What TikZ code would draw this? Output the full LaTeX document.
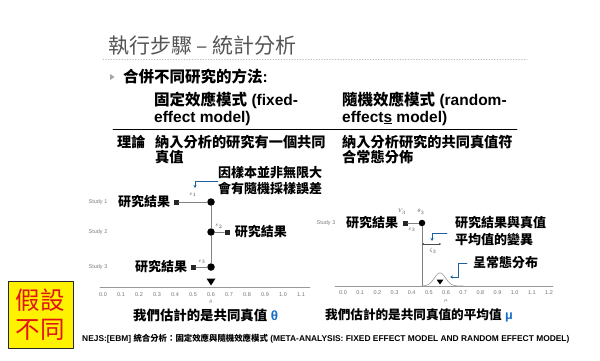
\documentclass[tikz,border=0pt]{standalone}
\usepackage{fontspec}
\setmainfont{Liberation Sans}
\newfontfamily\cjk{Noto Sans CJK TC}
\usetikzlibrary{arrows.meta,positioning}
\definecolor{noteblue}{RGB}{31,95,160}
\definecolor{greekblue}{RGB}{20,110,200}
\definecolor{titlegray}{RGB}{85,85,85}
\definecolor{hypred}{RGB}{225,20,20}
\newcommand{\zh}[1]{{\cjk #1}}
\tikzset{
  every picture/.append style={line cap=round,line join=round},
  ma title/.style={anchor=west,inner sep=0pt,text=titlegray,font=\fontsize{21}{24}\selectfont\cjk},
  ma head/.style={anchor=west,inner sep=0pt,align=left,font=\bfseries\fontsize{15.5}{17}\selectfont},
  ma text/.style={anchor=west,inner sep=0pt,align=left,font=\bfseries\fontsize{14.2}{15.5}\selectfont\cjk},
  ma result/.style={inner sep=0pt,font=\bfseries\fontsize{13}{16.5}\selectfont\cjk},
  ma study/.style={inner sep=0pt,text=gray,font=\fontsize{5.5}{6}\selectfont},
  ma tick/.style={inner sep=0pt,text=gray!90!black,font=\fontsize{5.5}{6}\selectfont},
  ma err/.style={inner sep=0pt,text=black!70,font=\fontsize{4.5}{5}\selectfont},
  ma dot/.style={circle,fill=black,inner sep=0pt,minimum size=7.5pt},
  ma box/.style={rectangle,fill=black!85,inner sep=0pt,minimum size=5pt},
  ma link/.style={gray,line width=0.8pt},
  ma axis/.style={gray!80,line width=0.6pt},
  ma note/.style={noteblue,line width=0.8pt,-{Stealth[length=3pt,width=3pt]}},
  ma caption/.style={anchor=west,inner sep=0pt,font=\bfseries\fontsize{13.4}{15}\selectfont},
  hyp box/.style={draw=black!85,fill=yellow,line width=0.8pt,minimum width=65pt,minimum height=67pt,
    inner sep=0pt,align=center,text=hypred,font=\fontsize{24.5}{29}\selectfont\cjk}
}
\pgfkeys{/pgf/number format/.cd,fixed,fixed zerofill,precision=1,assume math mode=true}

\begin{document}
\begin{tikzpicture}[x=1pt,y=-1pt]
  \useasboundingbox[fill=white] (0,0) rectangle (600,361);
  % title and header
  \node[ma title] (title) at (108,46) {執行步驟 – 統計分析};
  \coordinate (rule l) at (103,59);
  \coordinate (rule r) at (527,59);
  \draw[gray!55,dotted,line width=0.7pt] (rule l) -- (rule r);
  \fill[gray!70] (110,74) -- (114.5,77) -- (110,80) -- cycle;
  \node[ma head] (method) at (123,77) {\zh{合併不同研究的方法}:};
  \node[ma head] (fixed) at (154,108.5) {\zh{固定效應模式} (fixed-\\effect model)};
  \node[ma head] (random) at (342,108.5) {\zh{隨機效應模式} (random-\\effect\underline{s} model)};
  \coordinate (hline l) at (113,129.5);
  \coordinate (hline r) at (517,129.5);
  \draw[line width=0.8pt] (hline l) -- (hline r);
  \node[ma text] (theory) at (117,142) {理論};
  \node[ma text] (fixed def) at (155,149.5) {納入分析的研究有一個共同\\真值};
  \node[ma text] (random def) at (342,149.5) {納入分析研究的共同真值符\\合常態分佈};

  % fixed-effect panel
  \foreach \n/\y in {1/202,2/232,3/267}
    \node[ma study] (study\n) at (98,\y) {Study \n};
  \node[ma dot] (theta1) at (211,202) {};
  \node[ma dot] (theta2) at (211,232) {};
  \node[ma dot] (theta3) at (211,267) {};
  \node[ma box] (obs1) at (176,202) {};
  \node[ma box] (obs2) at (227,232) {};
  \node[ma box] (obs3) at (193,267) {};
  \draw[ma link] (theta1) -- (theta2) -- (theta3);
  \draw[ma link] (obs1) -- (theta1);
  \draw[ma link] (theta2) -- (obs2);
  \draw[ma link] (obs3) -- (theta3);
  \node[ma err] (eps1) at (193,195) {$\varepsilon_1$};
  \node[ma err] (eps2) at (219,226.5) {$\varepsilon_2$};
  \node[ma err] (eps3) at (202,262) {$\varepsilon_3$};
  \node[ma result,left=3pt of obs1] (res1) {研究結果};
  \node[ma result,right=5pt of obs2] (res2) {研究結果};
  \node[ma result,left=3pt of obs3] (res3) {研究結果};
  \node[ma text,font=\bfseries\fontsize{13}{16}\selectfont\cjk] (sampling) at (218,181)
    {因樣本並非無限大\\會有隨機採樣誤差};
  \coordinate (sampling tip) at (195,188);
  \draw[ma note] (sampling.west) -| (sampling tip);
  \coordinate (faxis l) at (100,287);
  \coordinate (faxis r) at (310,287);
  \draw[ma axis] (faxis l) -- (faxis r);
  \foreach \i in {0,...,11}
    \node[ma tick] (ftick\i) at ({103+18*\i},295)
      {\pgfmathparse{\i/10}\pgfmathprintnumber{\pgfmathresult}};
  \fill[black] (206.5,278.5) -- (215.5,278.5) -- (211,285.5) -- cycle;
  \node[ma tick] (flabel) at (211,302) {$\theta$};
  \node[ma caption] (fcap) at (133,315) {\zh{我們估計的是共同真值} \textcolor{greekblue}{θ}};

  % random-effects panel
  \node[ma study] (rstudy3) at (326,223) {Study 3};
  \node[ma dot,minimum size=6.5pt] (rtheta3) at (422,223) {};
  \node[ma box] (robs3) at (405,223) {};
  \draw[ma link] (robs3) -- (rtheta3);
  \node[ma err] (ry3) at (402,212) {$Y_3$};
  \node[ma err] (rth3) at (421,212) {$\theta_3$};
  \node[ma err] (reps3) at (412,230) {$\varepsilon_3$};
  \node[ma result,left=4pt of robs3] (rres3) {研究結果};
  \coordinate (raxis l) at (335,286);
  \coordinate (raxis r) at (553,286);
  \coordinate (rbase) at (422,286);
  \draw[ma link] (rtheta3) -- (rbase);
  \coordinate (zeta l) at (422,244);
  \coordinate (zeta r) at (441,244);
  \draw[black!70,line width=0.5pt,{Stealth[length=2pt,width=2pt]}-{Stealth[length=2pt,width=2pt]}] (zeta l) -- (zeta r);
  \node[ma err] (rzeta3) at (433,251) {$\zeta_3$};
  \node[ma text,font=\bfseries\fontsize{13}{17}\selectfont\cjk] (deviation) at (455,231.5)
    {研究結果與真值\\平均值的變異};
  \coordinate (dev start) at (447,233);
  \coordinate (dev tip) at (432,241);
  \draw[ma note] (dev start) -| (dev tip);
  \draw[ma axis] (raxis l) -- (raxis r);
  \draw[gray!80,line width=0.6pt] plot[domain=-18:23,samples=50,smooth] ({440+\x},{286-13*exp(-(\x*\x)/64)});
  \foreach \i in {0,...,12}
    \node[ma tick] (rtick\i) at ({343+17.17*\i},293)
      {\pgfmathparse{\i/10}\pgfmathprintnumber{\pgfmathresult}};
  \fill[black] (436.5,279.5) -- (443.5,279.5) -- (440,284.5) -- cycle;
  \node[ma tick] (rlabel) at (446,301) {$\mu$};
  \node[ma text,font=\bfseries\fontsize{13}{16}\selectfont\cjk] (normal) at (473,263) {呈常態分布};
  \coordinate (norm start) at (467,263);
  \coordinate (norm tip) at (450,277);
  \draw[ma note] (norm start) -| (458,277) -- (norm tip);
  \node[ma caption,font=\bfseries\fontsize{12.6}{15}\selectfont] (rcap) at (325,315)
    {\zh{我們估計的是共同真值的平均值} \textcolor{greekblue}{μ}};

  % assumption box and source
  \node[hyp box] (hyp) at (40.5,314.5) {假設\\不同};
  \node[anchor=west,inner sep=0pt,font=\bfseries\fontsize{8.4}{9}\selectfont] (source) at (82,339)
    {NEJS:[EBM] \zh{統合分析：固定效應與隨機效應模式} (META-ANALYSIS: FIXED EFFECT MODEL AND RANDOM EFFECT MODEL)};
\end{tikzpicture}
\end{document}
